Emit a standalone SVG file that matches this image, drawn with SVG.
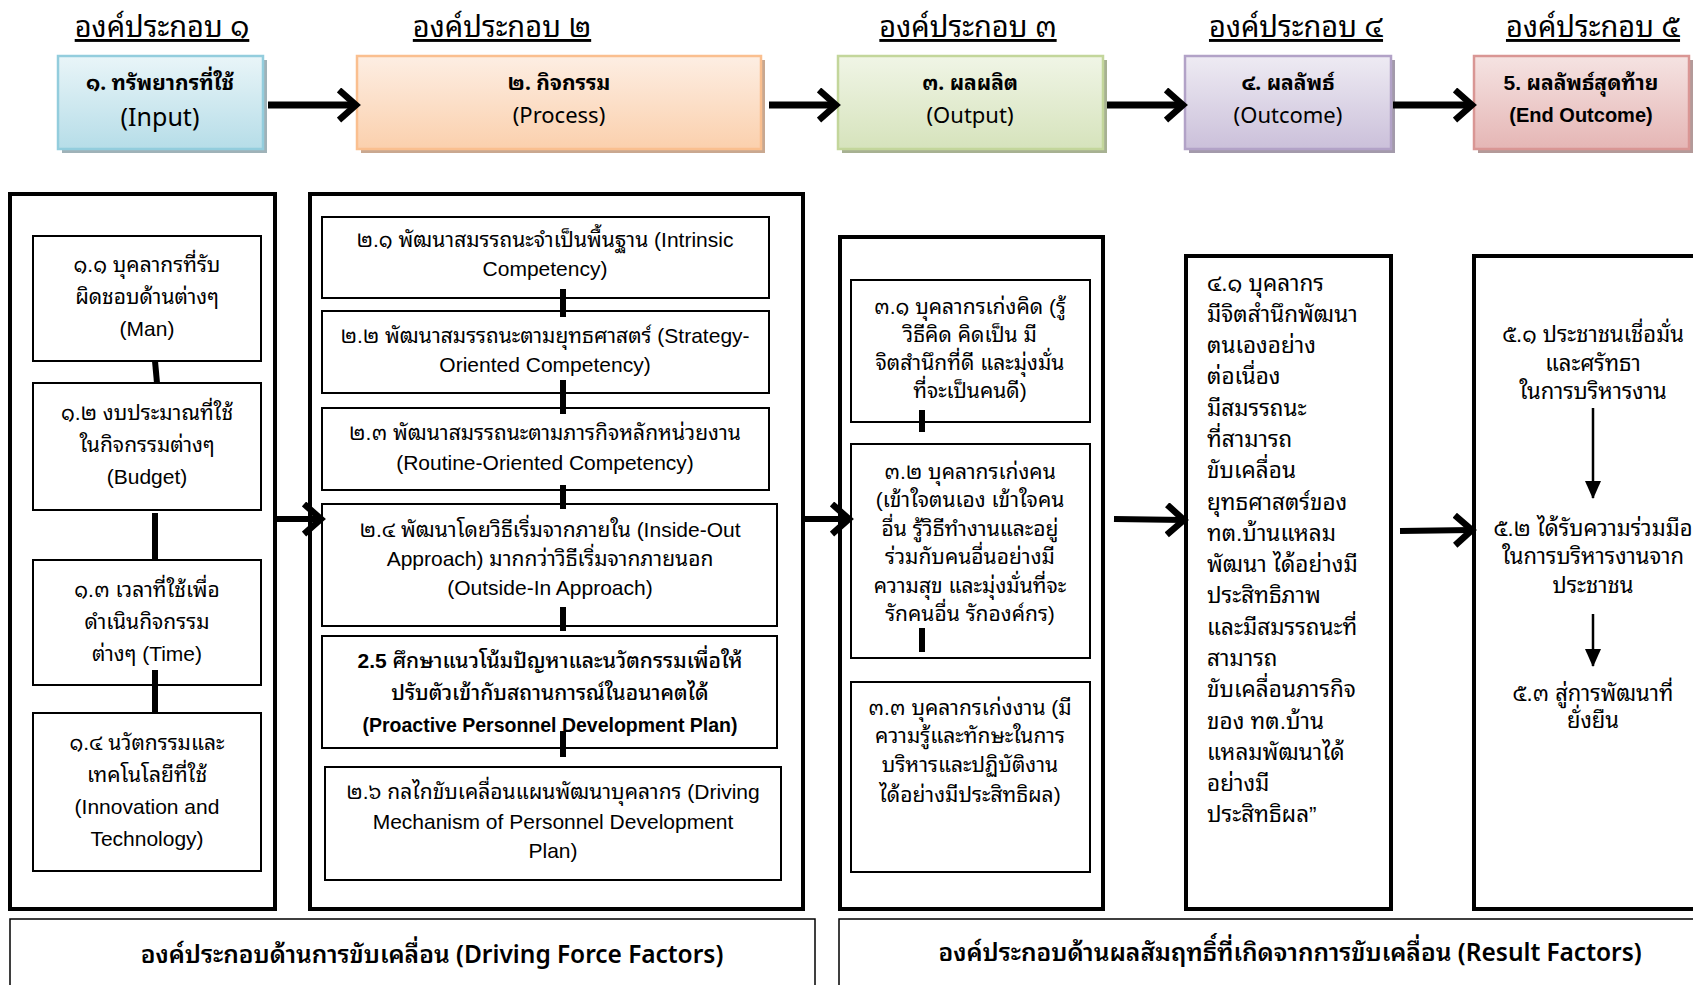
<svg xmlns="http://www.w3.org/2000/svg" width="1693" height="985" viewBox="0 0 1693 985">
<style>
.t{font-family:"Liberation Sans","Noto Sans Thai Looped","Noto Sans Thai","DejaVu Sans",sans-serif;fill:#000}
.h{font-family:"Noto Sans Thai Looped","Noto Sans Thai","Noto Sans","DejaVu Sans",sans-serif;fill:#000}
.hdr{font-size:29px;text-anchor:middle;text-decoration:underline}
.tb1{font-size:21px;font-weight:bold;text-anchor:middle}
.tb2{font-size:22px;text-anchor:middle}
.b{font-size:21px;text-anchor:middle}
.e{font-size:22px;text-anchor:middle}
.bl{font-size:22.5px}
.ar{font-family:"Liberation Sans",Arial,sans-serif;font-weight:bold}
.ft{font-size:24.5px;text-anchor:middle;font-weight:600}
.outer{fill:#fff;stroke:#000;stroke-width:4}
.inner{fill:#fff;stroke:#000;stroke-width:2}
.conn{stroke:#000;stroke-width:6;fill:none}
.arr{stroke:#000;stroke-width:7;fill:none}
.thin{stroke:#000;stroke-width:2.5;fill:none}
</style>
<defs>
<marker id="chev" markerUnits="userSpaceOnUse" markerWidth="30" markerHeight="36" refX="19" refY="17" orient="auto">
<path d="M2,2 L19,17 L2,32" fill="none" stroke="#000" stroke-width="6.5" stroke-linecap="butt"/>
</marker>
<marker id="tri" markerUnits="userSpaceOnUse" markerWidth="20" markerHeight="20" refX="17" refY="9" orient="auto">
<path d="M0,1 L18,9 L0,17 Z" fill="#000"/>
</marker>
<linearGradient id="gB" x1="0" y1="0" x2="0" y2="1"><stop offset="0" stop-color="#e9f5f8"/><stop offset="1" stop-color="#b6dde8"/></linearGradient>
<linearGradient id="gO" x1="0" y1="0" x2="0" y2="1"><stop offset="0" stop-color="#fdeee3"/><stop offset="1" stop-color="#fbd0ad"/></linearGradient>
<linearGradient id="gG" x1="0" y1="0" x2="0" y2="1"><stop offset="0" stop-color="#f0f5e6"/><stop offset="1" stop-color="#d6e3bc"/></linearGradient>
<linearGradient id="gP" x1="0" y1="0" x2="0" y2="1"><stop offset="0" stop-color="#eeebf3"/><stop offset="1" stop-color="#cbc0da"/></linearGradient>
<linearGradient id="gR" x1="0" y1="0" x2="0" y2="1"><stop offset="0" stop-color="#f5e3e2"/><stop offset="1" stop-color="#e5b6b5"/></linearGradient>
</defs>
<rect width="1693" height="985" fill="#fff"/>

<!-- headers -->
<g id="headers">
<text class="h hdr" x="162" y="37">องค์ประกอบ ๑</text>
<text class="h hdr" x="502" y="37">องค์ประกอบ ๒</text>
<text class="h hdr" x="968" y="37">องค์ประกอบ ๓</text>
<text class="h hdr" x="1296" y="37">องค์ประกอบ ๔</text>
<text class="h hdr" x="1593" y="37">องค์ประกอบ ๕</text>
</g>

<!-- top boxes -->
<g id="top-input">
<rect x="62" y="60" width="205" height="93" fill="#9fb2b8"/>
<rect x="58" y="56" width="205" height="93" fill="url(#gB)" stroke="#93cddd" stroke-width="2.5"/>
<text class="h tb1" x="160" y="90">๑. ทรัพยากรที่ใช้</text>
<text class="h tb2" x="160" y="126" style="font-size:25px">(Input)</text>
</g>
<g id="top-process">
<rect x="361" y="60" width="404" height="93" fill="#c9a890"/>
<rect x="357" y="56" width="404" height="93" fill="url(#gO)" stroke="#fabf8f" stroke-width="2.5"/>
<text class="h tb1" x="559" y="90">๒. กิจกรรม</text>
<text class="h tb2" x="559" y="123">(Process)</text>
</g>
<g id="top-output">
<rect x="842" y="60" width="265" height="93" fill="#a7b192"/>
<rect x="838" y="56" width="265" height="93" fill="url(#gG)" stroke="#c3d69b" stroke-width="2.5"/>
<text class="h tb1" x="970" y="90">๓. ผลผลิต</text>
<text class="h tb2" x="970" y="123">(Output)</text>
</g>
<g id="top-outcome">
<rect x="1189" y="60" width="206" height="93" fill="#a39aab"/>
<rect x="1185" y="56" width="206" height="93" fill="url(#gP)" stroke="#b2a2c7" stroke-width="2.5"/>
<text class="h tb1" x="1288" y="90">๔. ผลลัพธ์</text>
<text class="h tb2" x="1288" y="123">(Outcome)</text>
</g>
<g id="top-end">
<rect x="1478" y="60" width="215" height="93" fill="#b39a99"/>
<rect x="1474" y="56" width="215" height="93" fill="url(#gR)" stroke="#d99694" stroke-width="2.5"/>
<text class="h tb1" x="1581" y="90"><tspan class="ar">5.</tspan> ผลลัพธ์สุดท้าย</text>
<text class="h tb2 ar" x="1581" y="122" style="font-size:20px">(End Outcome)</text>
</g>

<!-- outer frames -->
<g id="frame-input"><rect class="outer" x="10" y="194" width="265" height="715"/></g>
<g id="frame-process"><rect class="outer" x="310" y="194" width="493" height="715"/></g>
<g id="frame-output"><rect class="outer" x="840" y="237" width="263" height="672"/></g>
<g id="frame-outcome"><rect class="outer" x="1186" y="256" width="205" height="653"/></g>
<g id="frame-end"><rect class="outer" x="1474" y="256" width="230" height="653"/></g>

<!-- input items -->
<g id="n1-1"><rect class="inner" x="33" y="236" width="228" height="125"/>
<text class="t b"><tspan x="147" y="272">๑.๑ บุคลากรที่รับ</tspan><tspan x="147" y="304">ผิดชอบด้านต่างๆ</tspan><tspan x="147" y="336">(Man)</tspan></text></g>
<g id="n1-2"><rect class="inner" x="33" y="383" width="228" height="127"/>
<text class="t b"><tspan x="147" y="420">๑.๒ งบประมาณที่ใช้</tspan><tspan x="147" y="452">ในกิจกรรมต่างๆ</tspan><tspan x="147" y="484">(Budget)</tspan></text></g>
<g id="n1-3"><rect class="inner" x="33" y="560" width="228" height="125"/>
<text class="t b"><tspan x="147" y="597">๑.๓ เวลาที่ใช้เพื่อ</tspan><tspan x="147" y="629">ดำเนินกิจกรรม</tspan><tspan x="147" y="661">ต่างๆ (Time)</tspan></text></g>
<g id="n1-4"><rect class="inner" x="33" y="713" width="228" height="158"/>
<text class="t b"><tspan x="147" y="750">๑.๔ นวัตกรรมและ</tspan><tspan x="147" y="782">เทคโนโลยีที่ใช้</tspan><tspan x="147" y="814">(Innovation and</tspan><tspan x="147" y="846">Technology)</tspan></text></g>

<!-- process items -->
<g id="n2-1"><rect class="inner" x="322" y="217" width="447" height="81"/>
<text class="t b"><tspan x="545" y="247">๒.๑ พัฒนาสมรรถนะจำเป็นพื้นฐาน (Intrinsic</tspan><tspan x="545" y="276">Competency)</tspan></text></g>
<g id="n2-2"><rect class="inner" x="322" y="311" width="447" height="82"/>
<text class="t b"><tspan x="545" y="343">๒.๒ พัฒนาสมรรถนะตามยุทธศาสตร์ (Strategy-</tspan><tspan x="545" y="372">Oriented Competency)</tspan></text></g>
<g id="n2-3"><rect class="inner" x="322" y="408" width="447" height="82"/>
<text class="t b"><tspan x="545" y="440">๒.๓ พัฒนาสมรรถนะตามภารกิจหลักหน่วยงาน</tspan><tspan x="545" y="470">(Routine-Oriented Competency)</tspan></text></g>
<g id="n2-4"><rect class="inner" x="322" y="504" width="455" height="122"/>
<text class="t b"><tspan x="550" y="537">๒.๔ พัฒนาโดยวิธีเริ่มจากภายใน (Inside-Out</tspan><tspan x="550" y="566">Approach) มากกว่าวิธีเริ่มจากภายนอก</tspan><tspan x="550" y="595">(Outside-In Approach)</tspan></text></g>
<g id="n2-5"><rect class="inner" x="322" y="636" width="455" height="112"/>
<text class="t b" style="font-weight:500"><tspan x="550" y="668"><tspan class="ar">2.5</tspan> ศึกษาแนวโน้มปัญหาและนวัตกรรมเพื่อให้</tspan><tspan x="550" y="700">ปรับตัวเข้ากับสถานการณ์ในอนาคตได้</tspan><tspan class="ar" x="550" y="732" style="font-size:19.5px">(Proactive Personnel Development Plan)</tspan></text></g>
<g id="n2-6"><rect class="inner" x="325" y="767" width="456" height="113"/>
<text class="t b"><tspan x="553" y="799">๒.๖ กลไกขับเคลื่อนแผนพัฒนาบุคลากร (Driving</tspan><tspan x="553" y="829">Mechanism of Personnel Development</tspan><tspan x="553" y="858">Plan)</tspan></text></g>

<!-- output items -->
<g id="n3-1"><rect class="inner" x="851" y="280" width="239" height="142"/>
<text class="t b"><tspan x="970" y="314">๓.๑ บุคลากรเก่งคิด   (รู้</tspan><tspan x="970" y="342">วิธีคิด คิดเป็น มี</tspan><tspan x="970" y="370">จิตสำนึกที่ดี และมุ่งมั่น</tspan><tspan x="970" y="398">ที่จะเป็นคนดี)</tspan></text></g>
<g id="n3-2"><rect class="inner" x="851" y="444" width="239" height="214"/>
<text class="t b"><tspan x="970" y="479">๓.๒ บุคลากรเก่งคน</tspan><tspan x="970" y="507">(เข้าใจตนเอง เข้าใจคน</tspan><tspan x="970" y="536">อื่น รู้วิธีทำงานและอยู่</tspan><tspan x="970" y="564">ร่วมกับคนอื่นอย่างมี</tspan><tspan x="970" y="593">ความสุข และมุ่งมั่นที่จะ</tspan><tspan x="970" y="621">รักคนอื่น รักองค์กร)</tspan></text></g>
<g id="n3-3"><rect class="inner" x="851" y="682" width="239" height="190"/>
<text class="t b"><tspan x="970" y="715">๓.๓ บุคลากรเก่งงาน (มี</tspan><tspan x="970" y="743">ความรู้และทักษะในการ</tspan><tspan x="970" y="772">บริหารและปฏิบัติงาน</tspan><tspan x="970" y="802">ได้อย่างมีประสิทธิผล)</tspan></text></g>

<!-- outcome text -->
<g id="n4-1">
<text class="t bl"><tspan x="1207" y="291">๔.๑ บุคลากร</tspan><tspan x="1207" y="322">มีจิตสำนึกพัฒนา</tspan><tspan x="1207" y="353">ตนเองอย่าง</tspan><tspan x="1207" y="384">ต่อเนื่อง</tspan><tspan x="1207" y="416">มีสมรรถนะ</tspan><tspan x="1207" y="447">ที่สามารถ</tspan><tspan x="1207" y="478">ขับเคลื่อน</tspan><tspan x="1207" y="510">ยุทธศาสตร์ของ</tspan><tspan x="1207" y="541">ทต.บ้านแหลม</tspan><tspan x="1207" y="572">พัฒนา ได้อย่างมี</tspan><tspan x="1207" y="603">ประสิทธิภาพ</tspan><tspan x="1207" y="635">และมีสมรรถนะที่</tspan><tspan x="1207" y="666">สามารถ</tspan><tspan x="1207" y="697">ขับเคลื่อนภารกิจ</tspan><tspan x="1207" y="729">ของ ทต.บ้าน</tspan><tspan x="1207" y="760">แหลมพัฒนาได้</tspan><tspan x="1207" y="791">อย่างมี</tspan><tspan x="1207" y="822">ประสิทธิผล”</tspan></text>
</g>

<!-- end outcome items -->
<g id="n5-1"><text class="t e"><tspan x="1593" y="342">๕.๑ ประชาชนเชื่อมั่น</tspan><tspan x="1593" y="371">และศรัทธา</tspan><tspan x="1593" y="399">ในการบริหารงาน</tspan></text></g>
<g id="n5-2"><text class="t e"><tspan x="1593" y="536">๕.๒ ได้รับความร่วมมือ</tspan><tspan x="1593" y="564">ในการบริหารงานจาก</tspan><tspan x="1593" y="593">ประชาชน</tspan></text></g>
<g id="n5-3"><text class="t e"><tspan x="1593" y="701">๕.๓ สู่การพัฒนาที่</tspan><tspan x="1593" y="728">ยั่งยืน</tspan></text></g>

<!-- footers -->
<g id="footer-driving"><rect x="10" y="919" width="805" height="80" fill="#fff" stroke="#000" stroke-width="1.5"/>
<text class="h ft" x="432" y="963">องค์ประกอบด้านการขับเคลื่อน (Driving Force Factors)</text></g>
<g id="footer-result"><rect x="839" y="919" width="870" height="80" fill="#fff" stroke="#000" stroke-width="1.5"/>
<text class="h ft" x="1290" y="961">องค์ประกอบด้านผลสัมฤทธิ์ที่เกิดจากการขับเคลื่อน (Result Factors)</text></g>

<!-- connectors -->
<g id="connectors">
<line class="arr" x1="268" y1="105" x2="356" y2="105" marker-end="url(#chev)"/>
<line class="arr" x1="769" y1="105" x2="836" y2="105" marker-end="url(#chev)"/>
<line class="arr" x1="1107" y1="105" x2="1183" y2="105" marker-end="url(#chev)"/>
<line class="arr" x1="1393" y1="105" x2="1472" y2="105" marker-end="url(#chev)"/>

<line class="arr" x1="276" y1="519" x2="321" y2="519" marker-end="url(#chev)" style="stroke-width:6"/>
<line class="arr" x1="804" y1="519" x2="849" y2="519" marker-end="url(#chev)" style="stroke-width:6"/>
<line class="arr" x1="1114" y1="519" x2="1184" y2="520" marker-end="url(#chev)" style="stroke-width:6"/>
<line class="arr" x1="1400" y1="531" x2="1472" y2="530" marker-end="url(#chev)" style="stroke-width:6"/>

<line class="conn" x1="155" y1="361" x2="157" y2="383"/>
<line class="conn" x1="155" y1="513" x2="155" y2="561"/>
<line class="conn" x1="155" y1="670" x2="155" y2="713"/>

<line class="conn" x1="563" y1="289" x2="563" y2="317"/>
<line class="conn" x1="563" y1="380" x2="563" y2="414"/>
<line class="conn" x1="563" y1="485" x2="563" y2="509"/>
<line class="conn" x1="563" y1="607" x2="563" y2="631"/>
<line class="conn" x1="563" y1="731" x2="563" y2="757"/>

<line class="conn" x1="922" y1="410" x2="922" y2="432"/>
<line class="conn" x1="922" y1="628" x2="922" y2="652"/>

<line class="thin" x1="1593" y1="408" x2="1593" y2="498" marker-end="url(#tri)"/>
<line class="thin" x1="1593" y1="614" x2="1593" y2="666" marker-end="url(#tri)"/>
</g>
</svg>
